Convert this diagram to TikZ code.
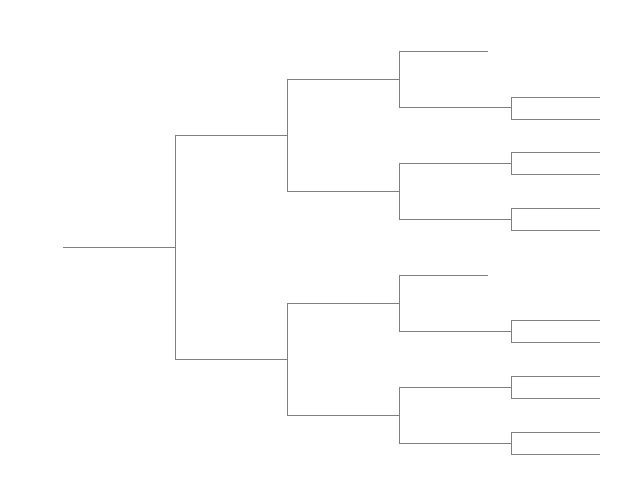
\documentclass[tikz,border=0pt]{standalone}
\begin{document}
\begin{tikzpicture}[x=1pt,y=-1pt,br/.style={draw=black!50,line width=0.8pt}]
\useasboundingbox (0,0) rectangle (641,495);
% root
\draw[br] (63,247) -- (175,247);
\draw[br] (175,135) -- (175,359);
% level 2
\draw[br] (175,135) -- (287,135); \draw[br] (287,79) -- (287,191);
\draw[br] (175,359) -- (287,359); \draw[br] (287,303) -- (287,415);
% level 3
\foreach \y/\a/\b in {79/51/107,191/163/219,303/275/331,415/387/443}{
  \draw[br] (287,\y) -- (399,\y); \draw[br] (399,\a) -- (399,\b);}
% leaves at level 4
\draw[br] (399,51) -- (488,51);
\draw[br] (399,275) -- (488,275);
\foreach \y/\a/\b in {107/97/119,163/152/174,219/208/230,331/320/342,387/376/398,443/432/454}{
  \draw[br] (399,\y) -- (511,\y); \draw[br] (511,\a) -- (511,\b);
  \draw[br] (511,\a) -- (600,\a); \draw[br] (511,\b) -- (600,\b);}
\end{tikzpicture}
\end{document}
